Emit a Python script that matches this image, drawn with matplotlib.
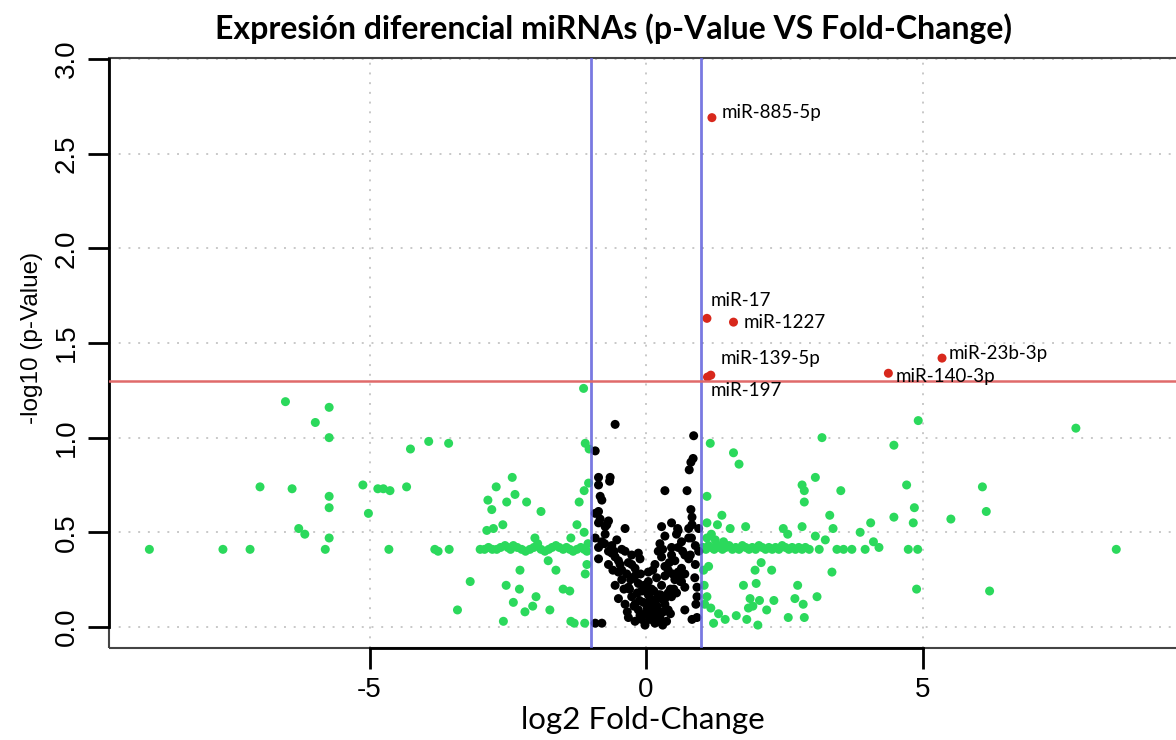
import numpy as np
import matplotlib
matplotlib.use('Agg')
import matplotlib.pyplot as plt
from matplotlib.patches import Rectangle

# datos: log2 fold-change y -log10(p)
verde_x = [-8.98, -7.65, -7.16, -6.98, -6.52, -6.40, -6.28, -6.17, -5.98, -5.80, -5.73, -5.73, -5.73, -5.73, -5.73,
           -5.12, -5.02, -4.85, -4.75, -4.63, -4.65, -4.33, -4.26, -3.93, -3.57, -3.82, -3.76, -3.56, -3.41, -3.18,
           -2.42, -2.71, -2.37, -2.86, -2.52, -2.16, -2.79, -1.90, -2.59, -2.76, -2.88, -2.01, -1.36, -1.25, -1.12,
           -1.21, -1.12, -1.04, -1.13, -1.10, -1.03, -1.77, -2.28, -1.63, -1.07, -1.10, -2.53, -2.29, -1.50, -1.38,
           -1.99, -2.40, -2.05, -1.74, -2.19, -2.58, -1.36, -1.30, -1.11, -1.05,
           -3.00, -2.92, -2.85, -2.78, -2.70, -2.63, -2.55, -2.50, -2.45, -2.40, -2.33, -2.25, -2.18, -2.10, -2.03,
           -1.96, -1.90, -1.83, -1.76, -1.70, -1.63, -1.57, -1.50, -1.44, -1.38, -1.32, -1.25, -1.18, -1.12, -1.07,
           1.16, 1.58, 1.68, 1.10, 1.37, 1.10, 1.29, 1.52, 1.80, 1.10, 1.25, 1.40, 1.18,
           2.48, 2.56, 2.82, 2.82, 2.86, 2.86, 3.06, 3.18, 3.06, 3.24, 3.32, 3.38, 3.52, 3.87, 4.06, 4.11, 4.21,
           4.48, 4.48, 4.71, 4.83, 4.85, 4.92, 4.89, 5.51, 6.08, 6.15, 6.21, 7.77, 8.50,
           3.13, 3.45, 3.57, 3.72, 3.96, 4.74, 4.91,
           1.13, 2.27, 2.08, 1.97, 3.36, 1.76, 1.99, 2.74, 1.10, 1.88, 2.05, 2.69, 3.09, 1.17, 1.85, 1.93, 2.18,
           2.31, 2.84, 1.31, 1.43, 1.63, 1.82, 2.57, 2.86, 1.22, 2.02, 1.04, 1.05, 1.06,
           1.03, 1.08, 1.13, 1.18, 1.23, 1.28, 1.33, 1.38, 1.44, 1.50, 1.56, 1.62, 1.68, 1.74, 1.80, 1.86, 1.92,
           1.98, 2.04, 2.10, 2.16, 2.22, 2.28, 2.34, 2.40, 2.46, 2.52, 2.58, 2.64, 2.70, 2.76, 2.82, 2.88, 2.95]
verde_y = [0.41, 0.41, 0.41, 0.74, 1.19, 0.73, 0.52, 0.49, 1.08, 0.41, 1.16, 1.00, 0.69, 0.63, 0.47,
           0.75, 0.60, 0.73, 0.73, 0.72, 0.41, 0.74, 0.94, 0.98, 0.97, 0.41, 0.40, 0.41, 0.09, 0.24,
           0.79, 0.74, 0.70, 0.67, 0.66, 0.66, 0.62, 0.61, 0.54, 0.52, 0.51, 0.47, 0.47, 0.54, 0.50,
           0.66, 0.72, 0.76, 1.26, 0.97, 0.94, 0.35, 0.30, 0.30, 0.33, 0.28, 0.22, 0.20, 0.20, 0.19,
           0.16, 0.13, 0.11, 0.09, 0.08, 0.03, 0.03, 0.02, 0.02, 0.44,
           0.41, 0.41, 0.42, 0.41, 0.41, 0.42, 0.43, 0.42, 0.41, 0.43, 0.42, 0.41, 0.40, 0.41, 0.42,
           0.44, 0.41, 0.40, 0.41, 0.42, 0.43, 0.42, 0.41, 0.42, 0.41, 0.40, 0.41, 0.42, 0.41, 0.40,
           0.97, 0.92, 0.86, 0.69, 0.59, 0.55, 0.54, 0.52, 0.53, 0.47, 0.46, 0.45, 0.49,
           0.52, 0.49, 0.53, 0.75, 0.72, 0.66, 0.79, 1.00, 0.48, 0.46, 0.59, 0.52, 0.72, 0.50, 0.55, 0.45, 0.42,
           0.96, 0.58, 0.75, 0.55, 0.63, 1.09, 0.20, 0.57, 0.74, 0.61, 0.19, 1.05, 0.41,
           0.41, 0.41, 0.41, 0.41, 0.41, 0.41, 0.41,
           0.32, 0.30, 0.34, 0.30, 0.29, 0.22, 0.23, 0.22, 0.16, 0.15, 0.14, 0.15, 0.16, 0.10, 0.10, 0.11, 0.09,
           0.14, 0.12, 0.07, 0.04, 0.06, 0.04, 0.05, 0.05, 0.02, 0.01, 0.30, 0.22, 0.12,
           0.42, 0.41, 0.43, 0.42, 0.41, 0.43, 0.42, 0.41, 0.42, 0.43, 0.41, 0.42, 0.41, 0.43, 0.42, 0.41, 0.42,
           0.41, 0.43, 0.42, 0.41, 0.42, 0.41, 0.42, 0.41, 0.43, 0.42, 0.41, 0.42, 0.41, 0.42, 0.41, 0.42, 0.41]

negro_x = [-0.56, 0.86, -0.92, 0.85, 0.81, 0.78, -0.86, -0.65, -0.86, -0.66, 0.34, 0.74, -0.83, -0.80, 0.81,
           0.83, -0.86, -0.92, -0.83, -0.68,
           -0.86, -0.71, -0.38, 0.28, 0.46, 0.58, 0.83, 0.95, -0.74, 0.57, 0.77,
           -0.92, -0.80, -0.74, -0.62, -0.53, -0.44, -0.86, 0.25, 0.34, 0.46, 0.64, 0.77, 0.89, 0.95, -0.68, 0.55,
           -0.86, -0.68, -0.56, -0.44, -0.32, -0.20, -0.11, 0.04, 0.16, 0.28, 0.40, 0.52, 0.64, 0.77, 0.89, -0.50,
           0.70, -0.26,
           -0.44, -0.32, -0.20, -0.08, 0.04, 0.10, 0.19, 0.28, 0.40, 0.52, 0.70, -0.14, 0.34, 0.88, 0.92,
           -0.50, -0.38, -0.26, -0.14, -0.05, 0.04, 0.10, 0.16, 0.25, 0.34, 0.46, 0.70, -0.02, 0.20, 0.90, 0.92,
           -0.92, -0.80, -0.32, -0.20, -0.11, -0.02, 0.07, 0.16, 0.25, 0.37, 0.83, 0.10, 0.30, 0.92,
           -0.62, -0.50, -0.38, -0.26, -0.14, 0.22, 0.34, 0.46, 0.58, 0.70, -0.75, 0.60,
           -0.30, -0.16, -0.04, 0.08, 0.22, 0.36, 0.50, 0.62, -0.56, 0.44,
           -0.08, 0.02, 0.13, 0.22, 0.31, -0.20, 0.40, 0.05, 0.18, 0.27,
           -0.78, -0.58, -0.47, -0.35, -0.23, 0.12, 0.30, 0.42, 0.66, 0.82,
           -0.40, -0.28, -0.10, 0.00, 0.14, 0.26, 0.48, 0.58, -0.60, 0.80,
           -0.22, -0.12, 0.06, 0.16, 0.34, 0.44, -0.34, 0.55, 0.64, -0.02]
negro_y = [1.07, 1.01, 0.93, 0.89, 0.87, 0.83, 0.79, 0.79, 0.75, 0.77, 0.72, 0.72, 0.69, 0.67, 0.62,
           0.58, 0.61, 0.60, 0.57, 0.56,
           0.55, 0.54, 0.52, 0.53, 0.55, 0.51, 0.54, 0.52, 0.53, 0.52, 0.52,
           0.47, 0.45, 0.49, 0.43, 0.46, 0.41, 0.42, 0.44, 0.48, 0.42, 0.45, 0.47, 0.43, 0.40, 0.40, 0.49,
           0.36, 0.33, 0.37, 0.30, 0.34, 0.31, 0.36, 0.29, 0.33, 0.37, 0.30, 0.35, 0.31, 0.36, 0.33, 0.29,
           0.38, 0.38,
           0.25, 0.21, 0.27, 0.19, 0.24, 0.20, 0.26, 0.22, 0.18, 0.25, 0.21, 0.23, 0.27, 0.26, 0.21,
           0.15, 0.12, 0.16, 0.09, 0.13, 0.17, 0.10, 0.14, 0.08, 0.12, 0.16, 0.09, 0.07, 0.11, 0.12, 0.16,
           0.02, 0.02, 0.05, 0.03, 0.06, 0.01, 0.04, 0.02, 0.05, 0.03, 0.04, 0.06, 0.01, 0.05,
           0.39, 0.35, 0.40, 0.33, 0.39, 0.40, 0.32, 0.38, 0.42, 0.28, 0.44, 0.27,
           0.20, 0.18, 0.22, 0.15, 0.17, 0.16, 0.20, 0.24, 0.22, 0.20,
           0.04, 0.10, 0.07, 0.03, 0.08, 0.12, 0.09, 0.13, 0.06, 0.15,
           0.44, 0.40, 0.33, 0.28, 0.26, 0.30, 0.41, 0.34, 0.40, 0.47,
           0.20, 0.25, 0.28, 0.21, 0.19, 0.17, 0.28, 0.29, 0.30, 0.38,
           0.11, 0.14, 0.11, 0.08, 0.15, 0.07, 0.08, 0.18, 0.24, 0.19]

sig_nombres = ['miR-885-5p', 'miR-17', 'miR-1227', 'miR-139-5p', 'miR-197', 'miR-140-3p', 'miR-23b-3p']
sig_x = [1.19, 1.10, 1.58, 1.17, 1.11, 4.38, 5.35]
sig_y = [2.69, 1.63, 1.61, 1.33, 1.32, 1.34, 1.42]
# desplazamiento de cada etiqueta (puntos)
offs = [(7, 4), (3, 13), (7, 0), (7, 12), (2, -10), (5, -2), (5, 3)]

fc_corte = 1
p_corte = -np.log10(0.05)

fig = plt.figure(figsize=(11.76, 7.40), dpi=100)
ax = fig.add_axes([109/1176, 92/740, 1 - 109/1176, (648 - 58)/740])
ax.set_xlim(-9.71, 9.58)
ax.set_ylim(-0.111, 3.005)

# rejilla punteada estilo R
for gx in [-5, 0, 5]:
    ax.axvline(gx, color='#c8c8c8', lw=1.4, ls=(0, (1, 4)), zorder=0)
for gy in np.arange(0, 3.01, 0.5):
    ax.axhline(gy, color='#c8c8c8', lw=1.4, ls=(0, (1, 4)), zorder=0)

ax.scatter(verde_x, verde_y, s=42, c='#2bd95c', edgecolors='none', zorder=2)
ax.scatter(negro_x, negro_y, s=42, c='black', edgecolors='none', zorder=2)
ax.scatter(sig_x, sig_y, s=42, c='#d8281c', edgecolors='none', zorder=3)

ax.axvline(-fc_corte, color='#6262dc', lw=2, alpha=0.85, zorder=4)
ax.axvline(fc_corte, color='#6262dc', lw=2, alpha=0.85, zorder=4)
ax.axhline(p_corte, color='#e06a6a', lw=1.8, zorder=4)

for nom, x, y, o in zip(sig_nombres, sig_x, sig_y, offs):
    ax.annotate(nom, (x, y), xytext=o, textcoords='offset points', ha='left', va='center',
                fontsize=13.5, family=['Lato', 'DejaVu Sans'], zorder=5)

# ejes
for s in ['top', 'right']:
    ax.spines[s].set_visible(False)
ax.spines['left'].set_bounds(0, 3)
ax.spines['bottom'].set_bounds(-5, 5)
ax.spines['left'].set_linewidth(2)
ax.spines['bottom'].set_linewidth(2)
# caja (lado derecho queda fuera de la imagen)
ax.add_patch(Rectangle((0, 0), 1.02, 1, transform=ax.transAxes, fill=False, lw=1.5, ec='#444444', clip_on=False))

ax.set_xticks([-5, 0, 5])
ax.set_xticklabels(['-5', '0', '5'])
ax.set_yticks(np.arange(0, 3.01, 0.5))
ax.set_yticklabels(['0.0', '0.5', '1.0', '1.5', '2.0', '2.5', '3.0'], rotation=90, va='center')
ax.tick_params(axis='both', length=15, width=2, labelsize=20, pad=6)
for lab in ax.get_xticklabels() + ax.get_yticklabels():
    lab.set_family(['Liberation Sans Narrow', 'Liberation Sans'])

ax.set_xlabel('log2 Fold-Change', fontsize=22.5, family=['Lato', 'DejaVu Sans'], labelpad=2)
fig.text(0.027, 0.543, '-log10 (p-Value)', rotation=90, ha='center', va='center',
         fontsize=17.5, family=['Liberation Sans', 'DejaVu Sans'])
fig.text(0.522, 0.962, 'Expresión diferencial miRNAs (p-Value VS Fold-Change)', ha='center', va='center',
         fontsize=23, fontweight='bold', family=['Lato', 'DejaVu Sans'])

fig.savefig('out.png', dpi=100)
